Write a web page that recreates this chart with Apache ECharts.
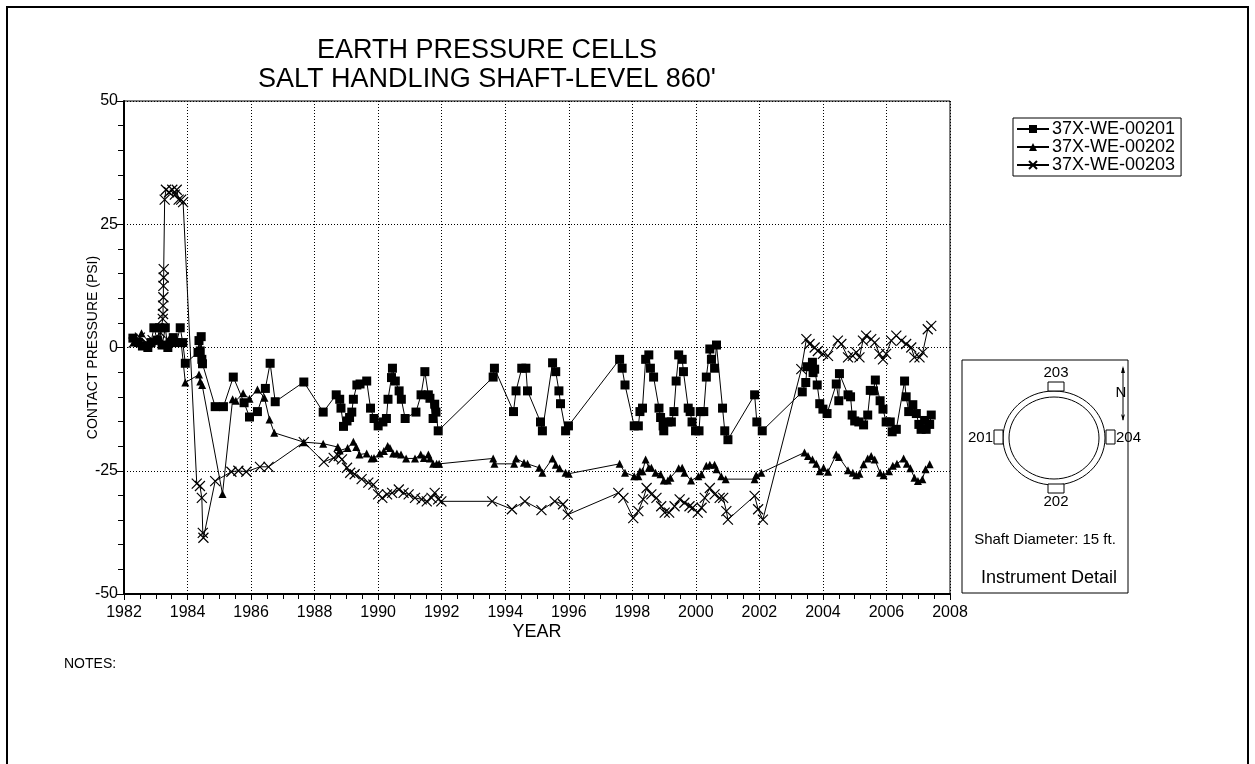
<!DOCTYPE html>
<html>
<head>
<meta charset="utf-8">
<title>Earth Pressure Cells</title>
<script src="https://cdn.jsdelivr.net/npm/echarts@6/dist/echarts.min.js"></script>
<style>
  html, body { margin: 0; padding: 0; background: #fff; }
  #chart { width: 1255px; height: 764px; }
</style>
</head>
<body>
<div id="chart"></div>
<script>
// [year, psi]
var cell201 = [
  [1982.28,1.9],[1982.45,1],[1982.58,0.3],[1982.75,0],[1982.85,1],[1982.94,4],[1983.05,1.5],[1983.12,4],
  [1983.2,0.5],[1983.3,4],[1983.38,0],[1983.45,1],[1983.55,2],[1983.65,1],[1983.77,4],[1983.85,1],
  [1983.93,-3.2],[1984.33,-1],[1984.36,1.4],[1984.4,-0.7],[1984.43,2.2],[1984.45,-2.4],[1984.47,-3.3],
  [1984.87,-12],[1985.13,-12],[1985.44,-6],[1985.78,-11.2],[1985.95,-14.1],[1986.2,-13],[1986.45,-8.3],
  [1986.6,-3.2],[1986.76,-11],[1987.66,-7],[1988.27,-13.1],[1988.68,-9.6],[1988.79,-10.5],[1988.83,-12.3],
  [1988.91,-16],[1989.02,-14.9],[1989.1,-14.2],[1989.17,-13.1],[1989.22,-10.5],[1989.33,-7.6],[1989.43,-7.4],
  [1989.64,-6.8],[1989.76,-12.3],[1989.87,-14.4],[1990.0,-15.9],[1990.15,-15.1],[1990.26,-14.4],[1990.31,-10.5],
  [1990.42,-6.1],[1990.45,-4.2],[1990.54,-6.8],[1990.66,-8.8],[1990.73,-10.5],[1990.85,-14.4],[1991.19,-13.1],
  [1991.35,-9.6],[1991.47,-4.9],[1991.58,-9.6],[1991.63,-10.3],[1991.73,-14.4],[1991.78,-11.5],[1991.82,-13.1],
  [1991.89,-16.9],[1993.62,-6],[1993.66,-4.2],[1994.26,-13],[1994.34,-8.8],[1994.52,-4.2],[1994.65,-4.2],
  [1994.7,-8.8],[1995.11,-15.1],[1995.17,-16.9],[1995.49,-3.1],[1995.59,-4.9],[1995.69,-8.8],[1995.74,-11.4],
  [1995.9,-16.9],[1995.99,-15.9],[1997.6,-2.4],[1997.68,-4.2],[1997.77,-7.6],[1998.06,-15.9],[1998.19,-15.9],
  [1998.24,-13],[1998.32,-12.3],[1998.42,-2.4],[1998.52,-1.5],[1998.57,-4.2],[1998.67,-6],[1998.84,-12.3],
  [1998.89,-14.2],[1998.97,-15.9],[1998.99,-16.9],[1999.12,-15.1],[1999.23,-15.1],[1999.31,-13],[1999.38,-6.8],
  [1999.46,-1.5],[1999.57,-2.4],[1999.61,-4.9],[1999.76,-12.3],[1999.82,-13],[1999.88,-15.1],[1999.99,-16.9],
  [2000.1,-16.9],[2000.14,-13],[2000.25,-13],[2000.33,-6],[2000.44,-0.3],[2000.49,-2.4],[2000.59,-4.2],
  [2000.65,0.5],[2000.84,-12.3],[2000.91,-16.9],[2001.01,-18.7],[2001.85,-9.6],[2001.92,-15.1],[2002.09,-16.9],
  [2003.35,-9],[2003.46,-7.1],[2003.5,-3.9],[2003.67,-3],[2003.69,-5.1],[2003.74,-4.4],[2003.82,-7.6],
  [2003.9,-11.4],[2004.0,-12.5],[2004.13,-13.4],[2004.42,-7.4],[2004.5,-10.8],[2004.52,-5.3],[2004.79,-9.6],
  [2004.87,-10],[2004.92,-13.7],[2005.0,-14.9],[2005.13,-15.1],[2005.28,-15.7],[2005.41,-13.7],[2005.49,-8.7],
  [2005.59,-8.8],[2005.65,-6.6],[2005.8,-10.8],[2005.89,-12.5],[2005.99,-15.1],[2006.12,-15.1],[2006.18,-17.1],
  [2006.31,-16.6],[2006.57,-6.8],[2006.62,-10],[2006.7,-13],[2006.83,-11.6],[2006.94,-13.4],[2007.02,-15.6],
  [2007.09,-16.6],[2007.2,-14.8],[2007.25,-16.6],[2007.36,-15.6],[2007.41,-13.7]
];

var cell202 = [
  [1982.3,1],[1982.55,2.9],[1982.8,1],[1983.0,1.5],[1983.2,1],[1983.4,1.5],[1983.6,1],[1983.8,1],
  [1983.93,-7.1],[1984.36,-5.5],[1984.4,-6.9],[1984.46,-7.6],[1985.1,-29.7],[1985.42,-10.5],[1985.52,-10.8],
  [1985.75,-9.3],[1985.95,-10.4],[1986.2,-8.5],[1986.42,-10.2],[1986.58,-14.6],[1986.73,-17.3],[1987.66,-19.2],
  [1988.27,-19.5],[1988.73,-20.2],[1988.79,-20.9],[1989.04,-20.4],[1989.22,-19.1],[1989.31,-20.2],[1989.41,-21.7],
  [1989.64,-21.5],[1989.79,-22.5],[1989.87,-22.4],[1990.05,-21.5],[1990.18,-21],[1990.3,-20],[1990.37,-20.4],
  [1990.47,-21.5],[1990.59,-21.5],[1990.72,-21.7],[1990.88,-22.5],[1991.16,-22.5],[1991.34,-21.7],[1991.44,-22.4],
  [1991.58,-21.7],[1991.63,-22.5],[1991.73,-23.6],[1991.84,-23.6],[1991.92,-23.6],[1993.62,-22.5],[1993.66,-23.6],
  [1994.28,-23.6],[1994.34,-22.5],[1994.59,-23.4],[1994.7,-23.6],[1995.07,-24.4],[1995.17,-25.4],[1995.49,-22.5],
  [1995.59,-23.8],[1995.71,-24.5],[1995.9,-25.4],[1996.0,-25.6],[1997.6,-23.6],[1997.77,-25.4],[1998.06,-26.1],
  [1998.19,-26.1],[1998.24,-25.1],[1998.32,-25.1],[1998.42,-22.7],[1998.52,-24.4],[1998.6,-24.4],[1998.73,-25.4],
  [1998.89,-25.7],[1998.99,-27],[1999.12,-27],[1999.2,-26.4],[1999.46,-24.5],[1999.57,-24.4],[1999.64,-25.4],
  [1999.85,-27],[2000.08,-26.1],[2000.18,-25.7],[2000.33,-24],[2000.44,-23.8],[2000.59,-23.8],[2000.65,-24.7],
  [2000.8,-26.1],[2000.94,-26.7],[2001.85,-26.7],[2001.9,-25.9],[2002.06,-25.4],[2003.42,-21.3],[2003.53,-22],
  [2003.67,-22.7],[2003.79,-23.6],[2003.9,-25.1],[2004.02,-24.4],[2004.16,-25.2],[2004.42,-21.7],[2004.5,-22.2],
  [2004.79,-24.9],[2004.94,-25.4],[2005.05,-25.9],[2005.15,-25.6],[2005.28,-23.7],[2005.41,-22.5],[2005.52,-22],
  [2005.63,-22.7],[2005.8,-25.4],[2005.91,-25.9],[2006.08,-25.1],[2006.2,-24],[2006.33,-23.6],[2006.54,-22.5],
  [2006.64,-23.6],[2006.75,-24.5],[2006.88,-26.4],[2006.99,-27.1],[2007.13,-26.7],[2007.23,-24.7],[2007.36,-23.7]
];

var cell203 = [
  [1982.3,1],[1982.5,2],[1982.7,1],[1982.9,1.5],[1983.05,1],[1983.15,3],[1983.22,5.8],[1983.23,6.8],
  [1983.23,8.5],[1983.24,10.2],[1983.24,12.5],[1983.25,14.2],[1983.25,15.9],[1983.28,30],[1983.32,32],
  [1983.42,31.5],[1983.52,32],[1983.6,31],[1983.66,32],[1983.72,30],[1983.8,30],[1983.86,29.5],
  [1984.29,-27.6],[1984.39,-28.1],[1984.45,-30.5],[1984.48,-37.6],[1984.5,-38.6],[1984.87,-27.1],
  [1985.38,-25.2],[1985.6,-25],[1985.85,-25.2],[1986.28,-24.2],[1986.55,-24.2],[1987.66,-19.2],
  [1988.29,-23.2],[1988.6,-22.4],[1988.76,-22],[1988.86,-22.7],[1989.02,-24.4],[1989.12,-25.4],[1989.26,-25.7],
  [1989.48,-26.7],[1989.69,-27.4],[1989.85,-27.8],[1990.0,-29.8],[1990.13,-30.5],[1990.28,-29.8],[1990.44,-29.5],
  [1990.65,-28.8],[1990.8,-29.5],[1990.96,-29.8],[1991.16,-30.5],[1991.37,-30.8],[1991.53,-31.2],[1991.68,-30.5],
  [1991.78,-29.5],[1991.89,-30.8],[1991.99,-31.2],[1993.59,-31.2],[1994.21,-32.8],[1994.62,-31.2],[1995.14,-33],
  [1995.56,-31.2],[1995.82,-31.8],[1995.97,-33.9],[1997.56,-29.5],[1997.72,-30.5],[1998.03,-34.6],[1998.19,-33.2],
  [1998.34,-30.8],[1998.45,-28.5],[1998.6,-29.8],[1998.76,-30.5],[1998.91,-32.2],[1999.02,-33.5],[1999.16,-33.5],
  [1999.33,-32.2],[1999.49,-30.8],[1999.64,-31.5],[1999.8,-32.2],[1999.9,-32.5],[2000.06,-33.5],[2000.18,-32.5],
  [2000.28,-30.5],[2000.44,-28.5],[2000.59,-29.8],[2000.75,-30.5],[2000.86,-30.5],[2000.96,-33.2],[2001.01,-34.9],
  [2001.85,-30.1],[2001.96,-32.8],[2002.11,-34.9],[2003.32,-4.4],[2003.48,1.7],[2003.58,0.7],[2003.74,0],
  [2003.84,-0.7],[2004.0,-1.3],[2004.16,-1.7],[2004.47,1.4],[2004.58,0.7],[2004.79,-2],[2004.94,-1.7],
  [2005.05,-1],[2005.15,-2],[2005.26,1.4],[2005.36,2.4],[2005.52,1.7],[2005.63,1],[2005.78,-1.3],[2005.89,-2.4],
  [2005.99,-1.3],[2006.15,1.4],[2006.31,2.4],[2006.47,1.4],[2006.62,0.7],[2006.78,0],[2006.88,-2],[2007.04,-2],
  [2007.14,-1],[2007.3,3.7],[2007.41,4.4]
];

var seriesNames = ['37X-WE-00201', '37X-WE-00202', '37X-WE-00203'];
var titleLines = ['EARTH PRESSURE CELLS', "SALT HANDLING SHAFT-LEVEL 860'"];

var FONT = '"Liberation Sans", Arial, sans-serif';
var xMark = 'path://M0,0L10,10M10,0L0,10';

var myChart = echarts.init(document.getElementById('chart'));

function cellSeries(name, data, symbol, size, isCross) {
  return {
    name: name,
    type: 'line',
    data: data,
    symbol: symbol,
    symbolSize: size,
    showAllSymbol: true,
    lineStyle: { color: '#000', width: 1 },
    itemStyle: isCross ? { color: '#000', borderColor: '#000', borderWidth: 1.2 } : { color: '#000' },
    emphasis: { disabled: true },
    animation: false
  };
}

var option = {
  backgroundColor: '#fff',
  textStyle: { fontFamily: FONT, color: '#000' },
  title: {
    text: titleLines.join('\n'),
    left: 482,
    top: 31,
    textAlign: 'center',
    textStyle: { fontFamily: FONT, fontSize: 27, fontWeight: 'normal', color: '#000', lineHeight: 29 }
  },
  legend: {
    data: seriesNames,
    orient: 'vertical',
    left: 1013,
    top: 118,
    padding: [2, 6, 2, 3],
    itemGap: 0,
    itemWidth: 32,
    itemHeight: 10,
    borderColor: '#000',
    borderWidth: 1,
    textStyle: { fontFamily: FONT, fontSize: 18, lineHeight: 17, color: '#000', padding: [0, 0, 0, -2] }
  },
  grid: {
    left: 124,
    right: 305,
    top: 101,
    bottom: 170,
    show: true,
    borderColor: '#000',
    borderWidth: 1
  },
  xAxis: {
    type: 'value',
    min: 1982,
    max: 2008,
    interval: 2,
    name: 'YEAR',
    nameLocation: 'middle',
    nameGap: 29,
    nameMoveOverlap: false,
    nameTextStyle: { fontFamily: FONT, fontSize: 18, color: '#000' },
    axisLine: { onZero: false, lineStyle: { color: '#000', width: 2 } },
    axisTick: { length: 6, lineStyle: { color: '#000' } },
    minorTick: { show: true, splitNumber: 4, length: 5, lineStyle: { color: '#000' } },
    axisLabel: { fontFamily: FONT, fontSize: 16, color: '#000', margin: 11, formatter: function (v) { return String(v); } },
    splitLine: { show: true, lineStyle: { color: '#000', type: [1, 2], width: 1 } }
  },
  yAxis: {
    type: 'value',
    min: -50,
    max: 50,
    interval: 25,
    name: 'CONTACT PRESSURE (PSI)',
    nameLocation: 'middle',
    nameGap: 24,
    nameMoveOverlap: false,
    nameTextStyle: { fontFamily: FONT, fontSize: 14, color: '#000' },
    axisLine: { show: true, onZero: false, lineStyle: { color: '#000', width: 2 } },
    axisTick: { show: true, inside: false, length: 8, lineStyle: { color: '#000' } },
    minorTick: { show: true, splitNumber: 5, length: 6, lineStyle: { color: '#000' } },
    axisLabel: { fontFamily: FONT, fontSize: 16, color: '#000', margin: 6 },
    splitLine: { show: true, lineStyle: { color: '#000', type: [1, 2], width: 1 } }
  },
  series: [
    cellSeries(seriesNames[0], cell201, 'rect', 9, false),
    cellSeries(seriesNames[1], cell202, 'triangle', 8, false),
    cellSeries(seriesNames[2], cell203, xMark, 10, true)
  ],
  graphic: [
    // page frame
    { type: 'rect', shape: { x: 7, y: 7, width: 1241, height: 800 }, style: { fill: 'none', stroke: '#000', lineWidth: 2 }, silent: true },
    { type: 'text', left: 64, top: 657, style: { text: 'NOTES:', font: '14px ' + FONT, fill: '#000' } },
    // instrument detail
    { type: 'rect', shape: { x: 962, y: 360, width: 166, height: 233 }, style: { fill: '#fff', stroke: '#000', lineWidth: 1 } },
    { type: 'ellipse', shape: { cx: 1054, cy: 438, rx: 51, ry: 47 }, style: { fill: 'none', stroke: '#000', lineWidth: 1 } },
    { type: 'ellipse', shape: { cx: 1054, cy: 438, rx: 45, ry: 41 }, style: { fill: 'none', stroke: '#000', lineWidth: 1 } },
    { type: 'rect', shape: { x: 1048, y: 382, width: 16, height: 9 }, style: { fill: '#fff', stroke: '#000', lineWidth: 1 } },
    { type: 'rect', shape: { x: 1048, y: 484, width: 16, height: 9 }, style: { fill: '#fff', stroke: '#000', lineWidth: 1 } },
    { type: 'rect', shape: { x: 994, y: 430, width: 9, height: 14 }, style: { fill: '#fff', stroke: '#000', lineWidth: 1 } },
    { type: 'rect', shape: { x: 1106, y: 430, width: 9, height: 14 }, style: { fill: '#fff', stroke: '#000', lineWidth: 1 } },
    { type: 'text', x: 1056, y: 373, style: { text: '203', font: '15px ' + FONT, fill: '#000', align: 'center', verticalAlign: 'middle' } },
    { type: 'text', x: 1056, y: 502, style: { text: '202', font: '15px ' + FONT, fill: '#000', align: 'center', verticalAlign: 'middle' } },
    { type: 'text', x: 993, y: 438, style: { text: '201', font: '15px ' + FONT, fill: '#000', align: 'right', verticalAlign: 'middle' } },
    { type: 'text', x: 1116, y: 438, style: { text: '204', font: '15px ' + FONT, fill: '#000', align: 'left', verticalAlign: 'middle' } },
    { type: 'line', shape: { x1: 1123, y1: 368, x2: 1123, y2: 420 }, style: { stroke: '#000', lineWidth: 1 } },
    { type: 'polygon', shape: { points: [[1123, 366], [1121, 373], [1125, 373]] }, style: { fill: '#000' } },
    { type: 'polygon', shape: { points: [[1123, 421], [1121, 414], [1123, 416], [1125, 414]] }, style: { fill: '#000' } },
    { type: 'text', x: 1121, y: 393, style: { text: 'N', font: '15px ' + FONT, fill: '#000', align: 'center', verticalAlign: 'middle' } },
    { type: 'text', x: 1045, y: 540, style: { text: 'Shaft Diameter: 15 ft.', font: '15px ' + FONT, fill: '#000', align: 'center', verticalAlign: 'middle' } },
    { type: 'text', x: 1049, y: 578, style: { text: 'Instrument Detail', font: '18px ' + FONT, fill: '#000', align: 'center', verticalAlign: 'middle' } }
  ]
};

myChart.setOption(option, true);
</script>
</body>
</html>
